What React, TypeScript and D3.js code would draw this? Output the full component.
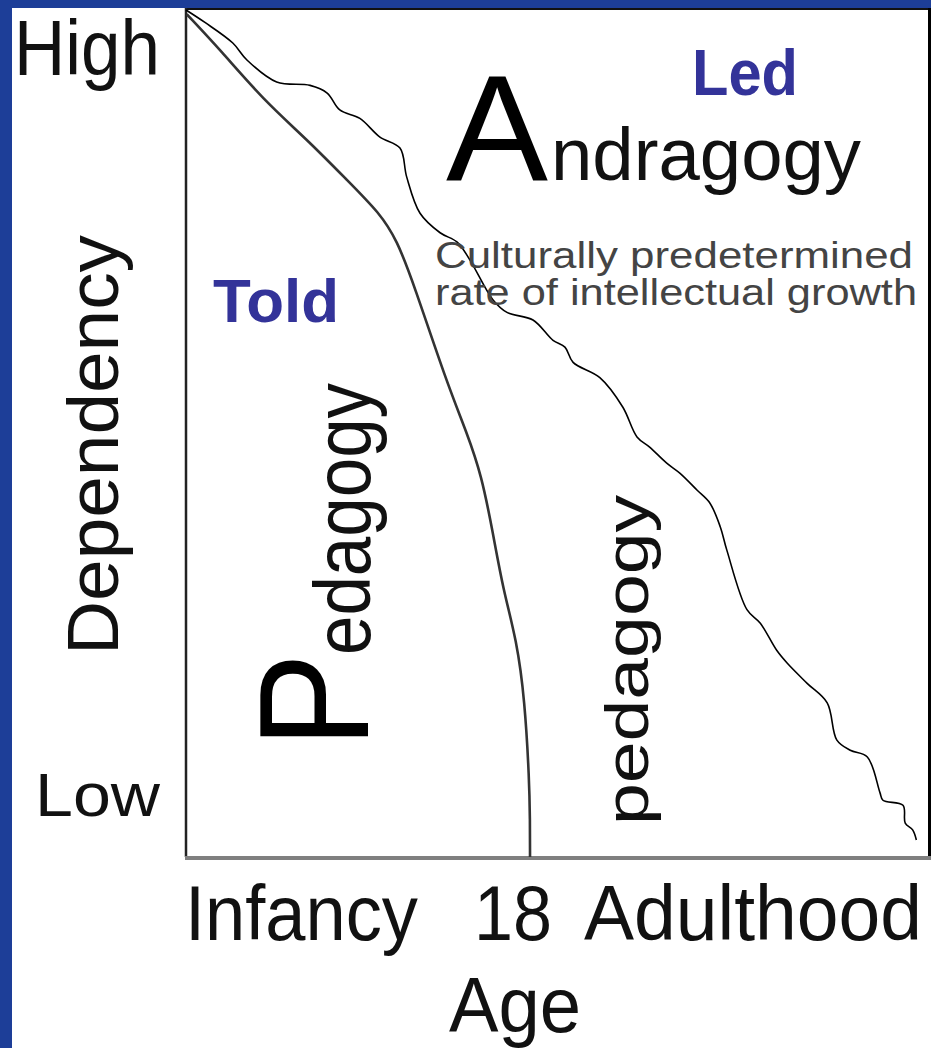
import React from 'react'
import * as d3 from 'd3'

// age (0 = infancy, 100 = far right of the box) vs dependency (100 = high, 0 = low)
const pedagogyAge = [0.1, 4.6, 10.4, 16.3, 21.7, 26.1, 28.4, 30.6, 35.1, 37.8, 39.8, 41.3, 42.7, 44.5, 45.6, 46.2, 46.3, 46.3]
const pedagogyDep = [99.5, 95.3, 89.4, 84.7, 79.9, 76.0, 72.8, 67.8, 56.0, 50.1, 45.0, 38.3, 31.5, 25.6, 18.5, 9.1, 4.4, 0]

const andragogyAge = [0, 2.6, 6.3, 8.2, 12.2, 16.7, 19.0, 20.7, 23.4, 26.1, 28.8, 29.7, 31.5, 34.2, 36.5, 38.2, 41.3, 43.2, 46.7, 49.4, 51.0, 52.1, 55.7, 58.8, 60.7, 62.4, 64.7, 66.5, 68.8, 70.5, 71.9, 72.8, 75.5, 77.3, 79.5, 80.9, 83.6, 86.3, 87.6, 89.4, 91.7, 93.4, 93.8, 96.5, 96.8, 97.8, 98.3]
const andragogyDep = [100, 98.5, 96.1, 94.1, 91.5, 91.1, 90.2, 88.2, 87.2, 85.0, 83.7, 80.3, 76.0, 73.7, 72.6, 70.5, 65.8, 64.3, 63.4, 61.0, 60.2, 58.4, 56.6, 53.1, 49.6, 48.4, 46.5, 45.3, 43.3, 41.8, 39.0, 36.2, 29.2, 27.6, 24.4, 22.9, 20.5, 18.2, 13.8, 12.6, 11.8, 7.6, 6.7, 6.1, 4.0, 3.2, 2.0]

const W = 931
const H = 1048
const FONT = '"Liberation Sans", Arial, Helvetica, sans-serif'
const BLUE_BG = '#1d3e98'
const LABEL_BLUE = '#333399'

export default function App() {
  const x = d3.scaleLinear().domain([0, 100]).range([186, 929])
  const y = d3.scaleLinear().domain([0, 100]).range([857, 10])

  const pedPts = pedagogyAge.map((a, i) => [a, pedagogyDep[i]] as [number, number])
  const andPts = andragogyAge.map((a, i) => [a, andragogyDep[i]] as [number, number])

  // pedagogy is a smooth printed curve, andragogy is hand drawn
  const pedPath = d3.line<[number, number]>()
    .x(d => x(d[0]))
    .y(d => y(d[1]))
    .curve(d3.curveBasis)(pedPts) || ''
  const andPath = d3.line<[number, number]>()
    .x(d => x(d[0]))
    .y(d => y(d[1]))
    .curve(d3.curveCatmullRom.alpha(0.5))(andPts) || ''

  return (
    <svg width={W} height={H} style={{ position: 'absolute', left: 0, top: 0 }} fontFamily={FONT}>
      <rect x={0} y={0} width={W} height={H} fill={BLUE_BG} />
      <rect x={12} y={8} width={W - 12} height={H - 8} fill="#fff" />

      {/* frame */}
      <line x1={x(0)} x2={x(100)} y1={y(100) - 1} y2={y(100) - 1} stroke="#111" strokeWidth={2} />
      <line x1={x(0)} x2={x(0)} y1={y(100) - 2} y2={y(0)} stroke="#222" strokeWidth={2.5} />
      <line x1={x(100) + 0.5} x2={x(100) + 0.5} y1={y(100) - 2} y2={y(0)} stroke="#000" strokeWidth={3} />
      <line x1={x(0) - 1} x2={W} y1={y(0) + 1} y2={y(0) + 1} stroke="#7f7f7f" strokeWidth={4} />

      {/* curves */}
      <path d={pedPath} fill="none" stroke="#333" strokeWidth={2.6} />
      <path d={andPath} fill="none" stroke="#000" strokeWidth={1.6} />

      {/* y axis */}
      <text x={14} y={75} fontSize={78} textLength={146} lengthAdjust="spacingAndGlyphs" fill="#111">High</text>
      <text x={35} y={816} fontSize={62} textLength={125} lengthAdjust="spacingAndGlyphs" fill="#111">Low</text>
      <text transform="translate(118,445) rotate(-90)" textAnchor="middle" fontSize={72} textLength={420} lengthAdjust="spacingAndGlyphs" fill="#111">Dependency</text>

      {/* x axis */}
      <text x={185} y={940} fontSize={77} textLength={233} lengthAdjust="spacingAndGlyphs" fill="#111">Infancy</text>
      <text x={474} y={940} fontSize={77} textLength={78} lengthAdjust="spacingAndGlyphs" fill="#111">18</text>
      <text x={584} y={940} fontSize={77} textLength={338} lengthAdjust="spacingAndGlyphs" fill="#111">Adulthood</text>
      <text x={449} y={1032} fontSize={77} textLength={132} lengthAdjust="spacingAndGlyphs" fill="#111">Age</text>

      {/* annotations */}
      <text x={692} y={95} fontSize={64} fontWeight="bold" textLength={106} lengthAdjust="spacingAndGlyphs" fill={LABEL_BLUE}>Led</text>
      <text x={213} y={322} fontSize={62} fontWeight="bold" textLength={126} lengthAdjust="spacingAndGlyphs" fill={LABEL_BLUE}>Told</text>

      <text x={446} y={180} fontSize={150} textLength={102} lengthAdjust="spacingAndGlyphs" fill="#000">A</text>
      <text x={551} y={180} fontSize={75} textLength={310} lengthAdjust="spacingAndGlyphs" fill="#111">ndragogy</text>

      <text x={435} y={268} fontSize={36} textLength={478} lengthAdjust="spacingAndGlyphs" fill="#444">Culturally predetermined</text>
      <text x={435} y={305} fontSize={36} textLength={482} lengthAdjust="spacingAndGlyphs" fill="#444">rate of intellectual growth</text>

      <text transform="translate(368,748) rotate(-90)" fontSize={155} textLength={95} lengthAdjust="spacingAndGlyphs" fill="#000">P</text>
      <text transform="translate(370,655) rotate(-90)" fontSize={80} textLength={272} lengthAdjust="spacingAndGlyphs" fill="#111">edagogy</text>
      <text transform="translate(648,825) rotate(-90)" fontSize={62} textLength={330} lengthAdjust="spacingAndGlyphs" fill="#111">pedagogy</text>
    </svg>
  )
}
